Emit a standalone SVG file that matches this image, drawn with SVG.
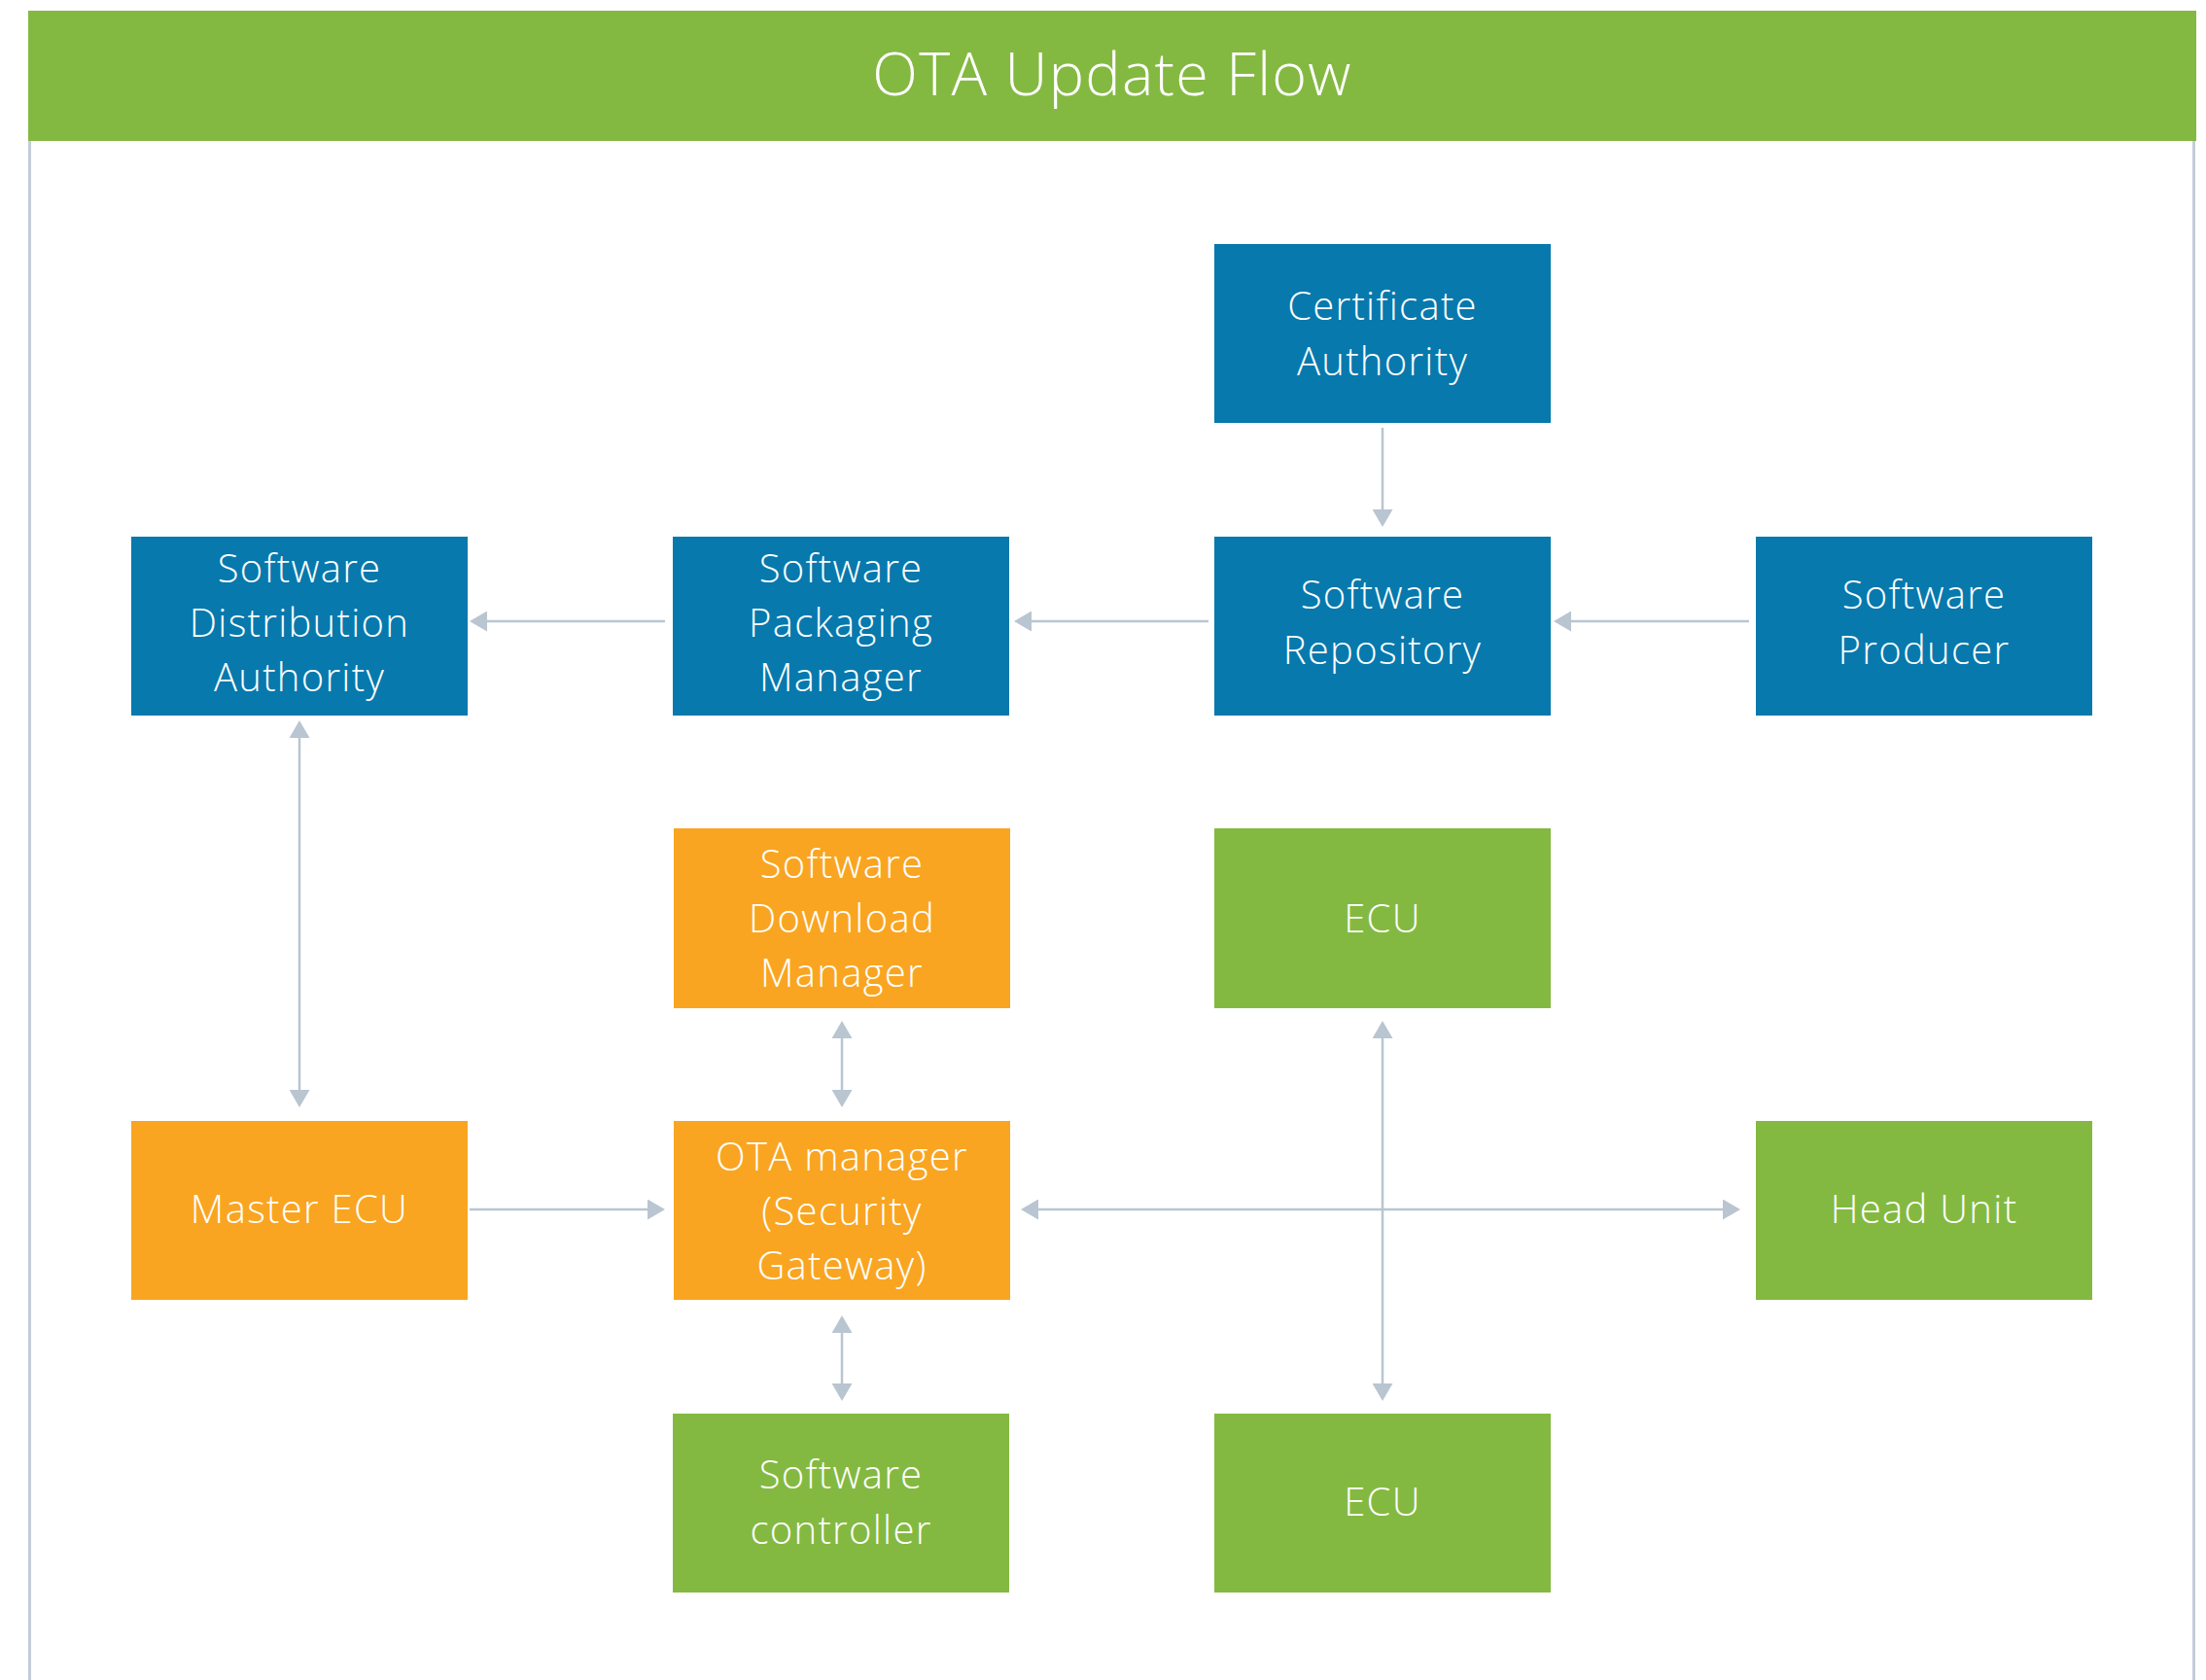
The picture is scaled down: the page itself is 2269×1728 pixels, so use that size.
<svg xmlns="http://www.w3.org/2000/svg" width="2269" height="1728" viewBox="0 0 2269 1728">
<style>
.blue{fill:#0779ad}
.green{fill:#84b941}
.orange{fill:#f9a521}
.lbl{font-family:"Open Sans","Liberation Sans",sans-serif;font-weight:300;font-size:40px;letter-spacing:1.3px;fill:#ffffff;text-anchor:middle}
.title{font-family:"Open Sans","Liberation Sans",sans-serif;font-weight:300;font-size:61px;letter-spacing:1.3px;fill:#ffffff;text-anchor:middle}
.conn{stroke:#b9c5d1;stroke-width:2.5;fill:none}
.one{marker-end:url(#arr)}
.two{marker-start:url(#arr);marker-end:url(#arr)}
.frame{stroke:#c3cdd9;stroke-width:3}
</style>
<defs>
<marker id="arr" viewBox="0 0 18 21" refX="8" refY="10.5" markerWidth="18" markerHeight="21" markerUnits="userSpaceOnUse" orient="auto-start-reverse">
<path d="M0,0 L18,10.5 L0,21 Z" fill="#b9c5d1"/>
</marker>
</defs>
<rect width="2269" height="1728" fill="#ffffff"/>
<g id="frame">
<line class="frame" x1="30.5" y1="145" x2="30.5" y2="1728"/>
<line class="frame" x1="2256.5" y1="145" x2="2256.5" y2="1728"/>
<rect x="29" y="11" width="2230" height="134" fill="#84b941"/>
<text class="title" x="1144" y="98">OTA Update Flow</text>
</g>
<g id="connectors">
<line class="conn one" x1="1422" y1="440" x2="1422" y2="532"/>
<line class="conn one" x1="1243" y1="639" x2="1053" y2="639"/>
<line class="conn one" x1="684" y1="639" x2="493" y2="639"/>
<line class="conn one" x1="1799" y1="639" x2="1608" y2="639"/>
<line class="conn two" x1="308" y1="751" x2="308" y2="1129"/>
<line class="conn two" x1="866" y1="1060" x2="866" y2="1129"/>
<line class="conn two" x1="866" y1="1363" x2="866" y2="1431"/>
<line class="conn one" x1="483" y1="1244" x2="674" y2="1244"/>
<line class="conn two" x1="1060" y1="1244" x2="1780" y2="1244"/>
<line class="conn two" x1="1422" y1="1060" x2="1422" y2="1431"/>
</g>
<g id="certificate-authority">
<rect class="blue" x="1249" y="251" width="346" height="184"/>
<text class="lbl" x="1422" y="329">Certificate</text>
<text class="lbl" x="1422" y="386">Authority</text>
</g>
<g id="software-distribution-authority">
<rect class="blue" x="135" y="552" width="346" height="184"/>
<text class="lbl" x="308" y="599">Software</text>
<text class="lbl" x="308" y="655">Distribution</text>
<text class="lbl" x="308" y="711">Authority</text>
</g>
<g id="software-packaging-manager">
<rect class="blue" x="692" y="552" width="346" height="184"/>
<text class="lbl" x="865" y="599">Software</text>
<text class="lbl" x="865" y="655">Packaging</text>
<text class="lbl" x="865" y="711">Manager</text>
</g>
<g id="software-repository">
<rect class="blue" x="1249" y="552" width="346" height="184"/>
<text class="lbl" x="1422" y="626">Software</text>
<text class="lbl" x="1422" y="683">Repository</text>
</g>
<g id="software-producer">
<rect class="blue" x="1806" y="552" width="346" height="184"/>
<text class="lbl" x="1979" y="626">Software</text>
<text class="lbl" x="1979" y="683">Producer</text>
</g>
<g id="software-download-manager">
<rect class="orange" x="693" y="852" width="346" height="185"/>
<text class="lbl" x="866" y="903">Software</text>
<text class="lbl" x="866" y="959">Download</text>
<text class="lbl" x="866" y="1015">Manager</text>
</g>
<g id="ecu-top">
<rect class="green" x="1249" y="852" width="346" height="185"/>
<text class="lbl" x="1422" y="959">ECU</text>
</g>
<g id="master-ecu">
<rect class="orange" x="135" y="1153" width="346" height="184"/>
<text class="lbl" x="308" y="1258">Master ECU</text>
</g>
<g id="ota-manager">
<rect class="orange" x="693" y="1153" width="346" height="184"/>
<text class="lbl" x="866" y="1204">OTA manager</text>
<text class="lbl" x="866" y="1260">(Security</text>
<text class="lbl" x="866" y="1316">Gateway)</text>
</g>
<g id="head-unit">
<rect class="green" x="1806" y="1153" width="346" height="184"/>
<text class="lbl" x="1979" y="1258">Head Unit</text>
</g>
<g id="software-controller">
<rect class="green" x="692" y="1454" width="346" height="184"/>
<text class="lbl" x="865" y="1531">Software</text>
<text class="lbl" x="865" y="1588">controller</text>
</g>
<g id="ecu-bottom">
<rect class="green" x="1249" y="1454" width="346" height="184"/>
<text class="lbl" x="1422" y="1559">ECU</text>
</g>
</svg>
